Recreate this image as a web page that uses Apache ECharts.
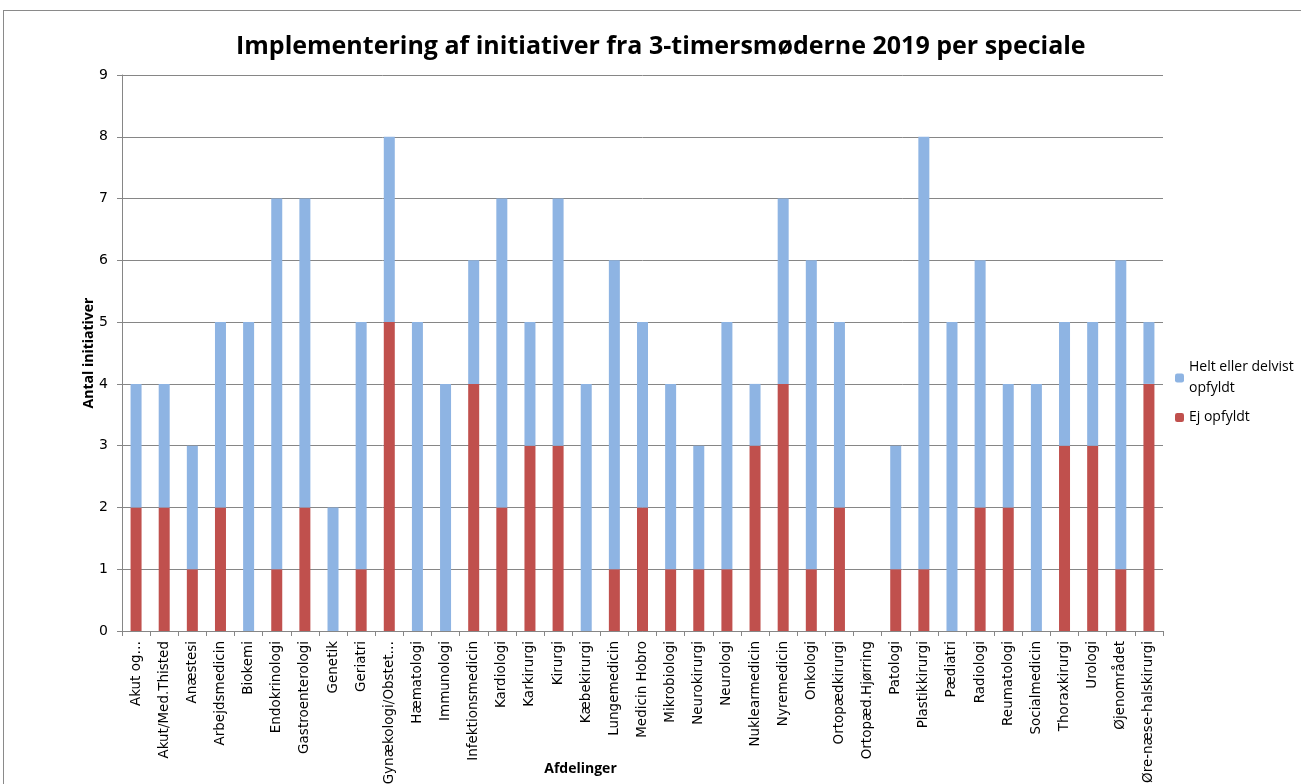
<!DOCTYPE html>
<html><head><meta charset="utf-8">
<script src="https://cdn.jsdelivr.net/npm/echarts@6/dist/echarts.min.js"></script>
<style>html,body{margin:0;padding:0;background:#fff}#c{width:1301px;height:784px}
#frame{position:absolute;left:3px;top:10px;width:1310px;height:800px;border:1.5px solid #8a8a8a;pointer-events:none}</style>
</head><body><div id="c"></div><div id="frame"></div>
<script>
const categories = ["Akut og…","Akut/Med.Thisted","Anæstesi","Arbejdsmedicin","Biokemi","Endokrinologi","Gastroenterologi","Genetik","Geriatri","Gynækologi/Obstet…","Hæmatologi","Immunologi","Infektionsmedicin","Kardiologi","Karkirurgi","Kirurgi","Kæbekirurgi","Lungemedicin","Medicin Hobro","Mikrobiologi","Neurokirurgi","Neurologi","Nuklearmedicin","Nyremedicin","Onkologi","Ortopædkirurgi","Ortopæd.Hjørring","Patologi","Plastikkirurgi","Pædiatri","Radiologi","Reumatologi","Socialmedicin","Thoraxkirurgi","Urologi","Øjenområdet","Øre-næse-halskirurgi"];
const ejOpfyldt = [2,2,1,2,0,1,2,0,1,5,0,0,4,2,3,3,0,1,2,1,1,1,3,4,1,2,0,1,1,0,2,2,0,3,3,1,4];
const heltDelvist = [2,2,2,3,5,6,5,2,4,3,5,4,2,5,2,4,4,5,3,3,2,4,1,3,5,3,0,2,7,5,4,2,4,2,2,5,1];
const yTicks = [0,1,2,3,4,5,6,7,8,9];

const font = "'Open Sans', 'Liberation Sans', sans-serif";
const labFont = "'DejaVu Sans', sans-serif";
const chart = echarts.init(document.getElementById('c'));
chart.setOption({
  animation:false,
  title:{text:'Implementering af initiativer fra 3-timersmøderne 2019 per speciale',left:231,top:29,
    textStyle:{fontFamily:font,fontWeight:'bold',fontSize:25,color:'#000'}},
  grid:{left:122,right:138,top:75,bottom:153,containLabel:false,outerBoundsMode:'none'},
  legend:{orient:'vertical',left:1170,top:352,itemWidth:9,itemHeight:9,itemGap:8,
    data:['Helt eller delvist\nopfyldt','Ej opfyldt'],
    textStyle:{fontFamily:font,fontSize:14,color:'#000',lineHeight:21}},
  xAxis:{type:'category',data:categories,name:'Afdelinger',nameLocation:'middle',nameGap:131,nameMoveOverlap:false,
    nameTextStyle:{fontFamily:font,fontWeight:'bold',fontSize:14,color:'#000',padding:[0,124,0,0]},
    axisLine:{lineStyle:{color:'#868686'}},
    axisTick:{show:true,alignWithLabel:false,length:5,lineStyle:{color:'#868686'}},
    axisLabel:{rotate:90,interval:0,fontFamily:labFont,fontSize:13.5,color:'#000',margin:10}},
  yAxis:{type:'value',min:0,max:9,interval:1,name:'Antal initiativer',nameLocation:'middle',nameGap:26,nameMoveOverlap:false,
    nameTextStyle:{fontFamily:font,fontWeight:'bold',fontSize:14,color:'#000'},
    axisLine:{show:true,lineStyle:{color:'#868686'}},
    axisTick:{show:true,length:5,lineStyle:{color:'#868686'}},
    axisLabel:{fontFamily:labFont,fontSize:14,color:'#000',margin:14,formatter:v=>yTicks.includes(v)?String(v):''},
    splitLine:{lineStyle:{color:'#868686',width:1}}},
  series:[
    {name:'Ej opfyldt',type:'bar',stack:'a',data:ejOpfyldt,barWidth:11,itemStyle:{color:'#C0504D'}},
    {name:'Helt eller delvist\nopfyldt',type:'bar',stack:'a',data:heltDelvist,barWidth:11,itemStyle:{color:'#8EB4E3'}}
  ]
});
</script></body></html>
